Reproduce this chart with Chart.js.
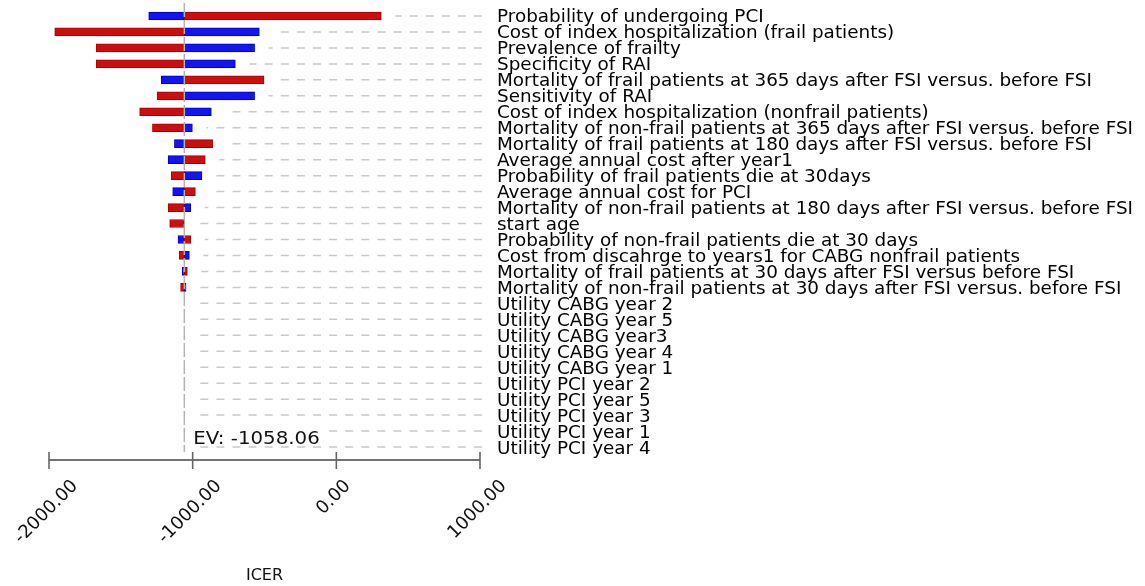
<!DOCTYPE html>
<html>
<head>
<meta charset="utf-8">
<script src="https://cdn.jsdelivr.net/npm/chart.js@4.4.0/dist/chart.umd.min.js"></script>
<style>
html, body { margin: 0; padding: 0; background: #fff; }
#wrap { width: 1145px; height: 586px; }
</style>
</head>
<body>
<div id="wrap"><canvas id="tornado"></canvas></div>
<script>
// expected value, every bar starts here
const EV = -1058.06

const categories = [
    "Probability of undergoing PCI",
    "Cost of index hospitalization (frail patients)",
    "Prevalence of frailty",
    "Specificity of RAI",
    "Mortality of frail patients at 365 days after FSI versus. before FSI",
    "Sensitivity of RAI",
    "Cost of index hospitalization (nonfrail patients)",
    "Mortality of non-frail patients at 365 days after FSI versus. before FSI",
    "Mortality of frail patients at 180 days after FSI versus. before FSI",
    "Average annual cost after year1",
    "Probability of frail patients die at 30days",
    "Average annual cost for PCI",
    "Mortality of non-frail patients at 180 days after FSI versus. before FSI",
    "start age",
    "Probability of non-frail patients die at 30 days",
    "Cost from discahrge to years1 for CABG nonfrail patients",
    "Mortality of frail patients at 30 days after FSI versus before FSI",
    "Mortality of non-frail patients at 30 days after FSI versus. before FSI",
    "Utility CABG year 2",
    "Utility CABG year 5",
    "Utility CABG year3",
    "Utility CABG year 4",
    "Utility CABG year 1",
    "Utility PCI year 2",
    "Utility PCI year 5",
    "Utility PCI year 3",
    "Utility PCI year 1",
    "Utility PCI year 4"
]

// ICER at the end of the red and blue bar of each row (null = no bar)
const redEnd = [313, -1960, -1672, -1672, -503, -1248, -1369, -1280, -861, -912,
    -1150, -981, -1171, -1160, -1014, -1093, -1037, -1084,
    null, null, null, null, null, null, null, null, null, null]
const blueEnd = [-1306, -536, -569, -703, -1218, -569, -870, -1002, -1127, -1171,
    -935, -1139, -1014, null, -1102, -1023, -1072, -1046,
    null, null, null, null, null, null, null, null, null, null]

const xTicks = [-2000, -1000, 0, 1000]
const xTitle = "ICER"

function toFloating(ends) {
    return ends.map((v) => v === null ? null : [EV, v])
}

// dashed row guides, EV line, axis and all the labels
const tornadoExtras = {
    id: "tornadoExtras",
    beforeDatasetsDraw(chart) {
        const ctx = chart.ctx
        const x = chart.scales.x
        const y = chart.scales.y
        const evPx = x.getPixelForValue(EV)
        const origin = evPx + 16

        ctx.save()
        ctx.strokeStyle = "#c9c9c9"
        ctx.lineWidth = 1.5
        ctx.setLineDash([8, 8.1])
        for (let i = 0; i < categories.length; i++) {
            const yPx = y.getPixelForValue(i)
            let right = evPx
            if (redEnd[i] !== null) right = Math.max(right, x.getPixelForValue(redEnd[i]))
            if (blueEnd[i] !== null) right = Math.max(right, x.getPixelForValue(blueEnd[i]))
            const start = right + 14
            ctx.save()
            ctx.beginPath()
            ctx.rect(start, yPx - 4, x.right + 4 - start, 8)
            ctx.clip()
            ctx.beginPath()
            ctx.moveTo(origin, yPx)
            ctx.lineTo(x.right + 2, yPx)
            ctx.stroke()
            ctx.restore()
        }
        ctx.restore()
    },
    afterDatasetsDraw(chart) {
        const ctx = chart.ctx
        const x = chart.scales.x
        const y = chart.scales.y
        const area = chart.chartArea
        const evPx = x.getPixelForValue(EV)

        // EV line
        ctx.save()
        ctx.strokeStyle = "#b3b3b3"
        ctx.lineWidth = 1.5
        ctx.setLineDash([14, 3])
        ctx.beginPath()
        ctx.moveTo(evPx, area.top - 5)
        ctx.lineTo(evPx, area.bottom - 3)
        ctx.stroke()
        ctx.restore()

        // EV label with white box behind
        ctx.save()
        ctx.font = "18px 'DejaVu Sans'"
        const evText = "EV: " + EV.toFixed(2)
        const evSx = 1.1
        const evW = ctx.measureText(evText).width * evSx
        ctx.fillStyle = "#fff"
        ctx.fillRect(evPx + 5, area.bottom - 32, evW + 8, 22)
        ctx.fillStyle = "#111"
        ctx.textBaseline = "alphabetic"
        ctx.translate(evPx + 9, area.bottom - 11)
        ctx.scale(evSx, 1)
        ctx.fillText(evText, 0, 0)
        ctx.restore()

        // x axis
        const axisY = area.bottom + 5
        ctx.save()
        ctx.strokeStyle = "#444"
        ctx.lineWidth = 1.6
        ctx.beginPath()
        ctx.moveTo(x.getPixelForValue(xTicks[0]), axisY)
        ctx.lineTo(x.getPixelForValue(xTicks[xTicks.length - 1]), axisY)
        ctx.stroke()
        ctx.strokeStyle = "#666"
        xTicks.forEach((t) => {
            const px = x.getPixelForValue(t)
            ctx.beginPath()
            ctx.moveTo(px, axisY - 8)
            ctx.lineTo(px, axisY + 9)
            ctx.stroke()
        })

        // rotated tick labels, centred on the tick
        ctx.fillStyle = "#111"
        ctx.font = "18px 'DejaVu Sans'"
        ctx.textAlign = "right"
        ctx.textBaseline = "top"
        const h = 14
        xTicks.forEach((t) => {
            const text = t.toFixed(2)
            const L = ctx.measureText(text).width
            const px = x.getPixelForValue(t) - 4
            const ax = px - (h - L) * 0.3536
            ctx.save()
            ctx.translate(ax, axisY + 17)
            ctx.rotate(-Math.PI / 4)
            ctx.fillText(text, 0, 0)
            ctx.restore()
        })

        // axis title
        ctx.font = "16px 'DejaVu Sans'"
        ctx.textAlign = "center"
        ctx.textBaseline = "middle"
        ctx.fillText(xTitle, (x.left + x.right) / 2, axisY + 116)
        ctx.restore()

        // category labels on the right, fitted to the width of the original
        ctx.save()
        ctx.fillStyle = "#000"
        ctx.font = "17px 'DejaVu Sans'"
        ctx.textAlign = "left"
        ctx.textBaseline = "alphabetic"
        const longest = Math.max(...categories.map((c) => ctx.measureText(c).width))
        const sx = 636 / longest
        categories.forEach((c, i) => {
            const yPx = y.getPixelForValue(i)
            ctx.save()
            ctx.translate(x.right + 17, yPx + 6.5)
            ctx.scale(sx, 1)
            ctx.fillText(c, 0, 0)
            ctx.restore()
        })
        ctx.restore()
    }
}

const chart = new Chart(document.getElementById("tornado"), {
    type: "bar",
    data: {
        labels: categories,
        datasets: [{
            label: "red",
            data: toFloating(redEnd),
            backgroundColor: "#cc0e0e",
            borderColor: "#a80000",
            borderWidth: 1,
            borderSkipped: false,
            barThickness: 8,
            grouped: false
        }, {
            label: "blue",
            data: toFloating(blueEnd),
            backgroundColor: "#1414f0",
            borderColor: "#0000c0",
            borderWidth: 1,
            borderSkipped: false,
            barThickness: 8,
            grouped: false
        }]
    },
    options: {
        indexAxis: "y",
        responsive: true,
        maintainAspectRatio: false,
        animation: false,
        layout: {
            padding: { left: 49, right: 665, top: 8, bottom: 131 }
        },
        scales: {
            x: { type: "linear", min: -2000, max: 1000, display: false },
            y: { type: "category", display: false }
        },
        plugins: {
            legend: { display: false },
            tooltip: { enabled: false }
        }
    },
    plugins: [tornadoExtras]
})
</script>
</body>
</html>
